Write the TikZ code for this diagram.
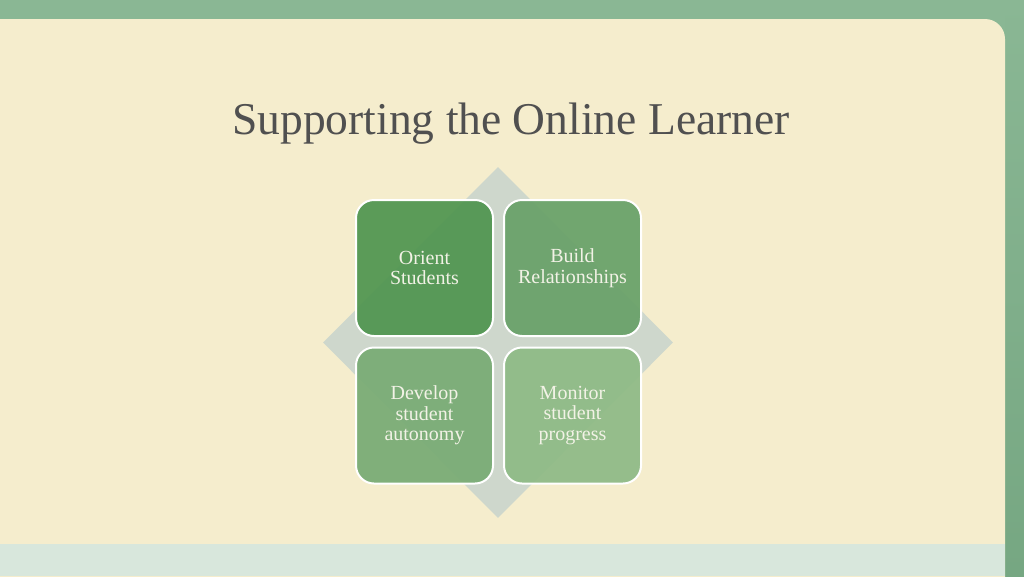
\documentclass[tikz,border=0pt]{standalone}
\usepackage{fontspec}
\setmainfont{Liberation Serif}
\usetikzlibrary{shapes.geometric}
\definecolor{bggreen}{RGB}{138,183,148}
\definecolor{rightgreen}{RGB}{118,167,130}
\definecolor{cream}{RGB}{245,237,205}
\definecolor{palegreen}{RGB}{216,231,220}
\definecolor{diacol}{RGB}{206,215,204}
\definecolor{titlegray}{RGB}{80,80,80}
\definecolor{boxa}{RGB}{80,149,80}
\definecolor{boxb}{RGB}{104,161,104}
\definecolor{boxc}{RGB}{120,171,116}
\definecolor{boxd}{RGB}{142,186,134}
\definecolor{boxtext}{RGB}{242,242,230}
\tikzset{
  quadbox/.style={rectangle, rounded corners=18pt, minimum width=137pt, minimum height=136pt,
    draw=white, line width=2pt, fill opacity=0.93, text opacity=1, align=center,
    text=boxtext, font=\fontsize{20}{20.5}\selectfont},
  titletext/.style={text=titlegray, font=\fontsize{45.5}{48}\selectfont, anchor=base, inner sep=0pt}
}
\begin{document}
\begin{tikzpicture}[x=1pt,y=-1pt]
\useasboundingbox (0,0) rectangle (1024,576);
\clip (0,0) rectangle (1024,576);
\fill[bggreen] (0,0) rectangle (1024,576);
\shade[top color=bggreen, bottom color=rightgreen] (1005,0) rectangle (1024,576);
\fill[cream, rounded corners=20pt] (-40,19) rectangle (1005,600);
\fill[palegreen] (0,544) rectangle (1005,576);
\node[titletext] (title) at (511,134) {Supporting the Online Learner};
\node[diamond, fill=diacol, minimum width=350pt, minimum height=351pt, inner sep=0pt] (dia) at (498,342.5) {};
\node[quadbox, fill=boxa] (orient) at (424.5,268) {Orient\\Students};
\node[quadbox, fill=boxb] (build) at (572.5,268) {Build\\Relationships};
\node[quadbox, fill=boxc] (develop) at (424.5,415.5) {Develop\\student\\autonomy};
\node[quadbox, fill=boxd] (monitor) at (572.5,415.5) {Monitor\\student\\progress};
\end{tikzpicture}
\end{document}
